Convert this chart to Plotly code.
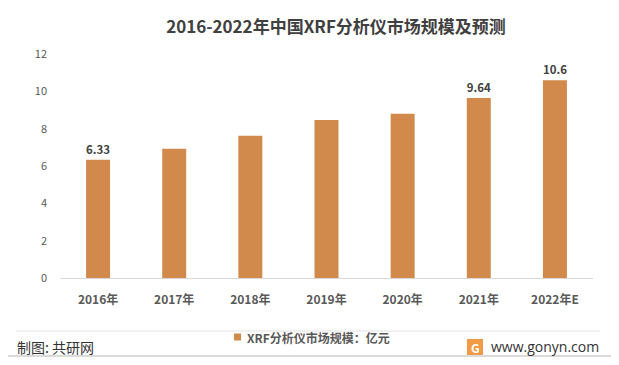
import plotly.graph_objects as go

categories = ["2016年", "2017年", "2018年", "2019年", "2020年", "2021年", "2022年E"]
values = [6.33, 6.92, 7.62, 8.47, 8.80, 9.64, 10.6]
labels = ["6.33", "", "", "", "", "9.64", "10.6"]
y_ticks = [0, 2, 4, 6, 8, 10, 12]
series_name = "XRF分析仪市场规模：亿元"
title_text = "2016-2022年中国XRF分析仪市场规模及预测"

OFF = 8  # page body margin
W, H = 619 - OFF, 365 - OFF
L, R, T, B = 60 - OFF, 26, 54 - OFF, 87
PW = W - L - R
PH = H - T - B

def px(x):
    return (x - OFF - L) / PW

def py(y):
    return (H - B - (y - OFF)) / PH

FONT = "Noto Sans CJK SC"
BAR = "#D28A4C"

fig = go.Figure()
fig.add_trace(go.Bar(
    x=categories, y=values, name=series_name, showlegend=False,
    marker=dict(color=BAR, line=dict(width=0)),
    text=labels, textposition="outside", cliponaxis=False,
    textfont=dict(family=FONT, size=12, color="#404040", weight="bold"),
))

shapes = [
    dict(type="rect", xref="paper", yref="paper", x0=px(6), x1=px(612), y0=py(356), y1=py(5),
         line=dict(color="#D0D0D0", width=1.5), fillcolor="rgba(0,0,0,0)", layer="above"),
    dict(type="line", xref="paper", yref="paper", x0=px(16), x1=px(600), y0=py(331), y1=py(331),
         line=dict(color="#E3E3E3", width=1)),
    dict(type="rect", xref="paper", yref="paper", x0=px(234), x1=px(241), y0=py(340.5), y1=py(333.5),
         line=dict(width=0), fillcolor=BAR),
    dict(type="rect", xref="paper", yref="paper", x0=px(467), x1=px(483), y0=py(355), y1=py(339),
         line=dict(width=0), fillcolor="#F29A45"),
]

annotations = [
    dict(text=f"<b>{series_name}</b>", xref="paper", yref="paper", x=px(245), y=py(337), xanchor="left",
         yanchor="middle", showarrow=False, font=dict(family=FONT, size=12, color="#595959")),
    dict(text="制图: 共研网", xref="paper", yref="paper", x=px(15), y=py(347), xanchor="left",
         yanchor="middle", showarrow=False, font=dict(family=FONT, size=14, color="#333333")),
    dict(text="<b>G</b>", xref="paper", yref="paper", x=px(475), y=py(347), xanchor="center",
         yanchor="middle", showarrow=False, font=dict(family=FONT, size=12, color="#FFFFFF")),
    dict(text="www.gonyn.com", xref="paper", yref="paper", x=px(489), y=py(346), xanchor="left",
         yanchor="middle", showarrow=False, font=dict(family="Open Sans", size=14, color="#333333")),
]

# faint watermarks
for (wx, wy) in [(100, 60), (240, 150), (270, 255), (480, 140), (580, 235)]:
    annotations.append(dict(text="<b>共研网</b><br>w w w . g o n y n . c o m", xref="paper", yref="paper",
                            x=px(wx), y=py(wy), showarrow=False, textangle=-15,
                            font=dict(family=FONT, size=18, color="rgba(0,0,0,0.025)")))

fig.update_layout(
    width=W, height=H,
    margin=dict(l=L, r=R, t=T, b=B),
    paper_bgcolor="white", plot_bgcolor="white",
    bargap=0.685,
    title=dict(text=f"<b>{title_text}</b>", x=(336 - OFF) / W, xanchor="center",
               y=1 - (27 - OFF) / H, yanchor="middle",
               font=dict(family=FONT, size=17, color="#404040")),
    showlegend=False,
    xaxis=dict(showline=True, linecolor="#D9D9D9", linewidth=1, showgrid=False, ticks="",
               tickfont=dict(family=FONT, size=12, color="#595959", weight="bold"),
               ticklabelstandoff=11, fixedrange=True),
    yaxis=dict(range=[0, 12], tickvals=y_ticks, showgrid=False, showline=False, zeroline=False,
               tickfont=dict(family=FONT, size=11, color="#595959"), ticklabelstandoff=12),
    shapes=shapes, annotations=annotations,
)

fig.write_html("out.html")
